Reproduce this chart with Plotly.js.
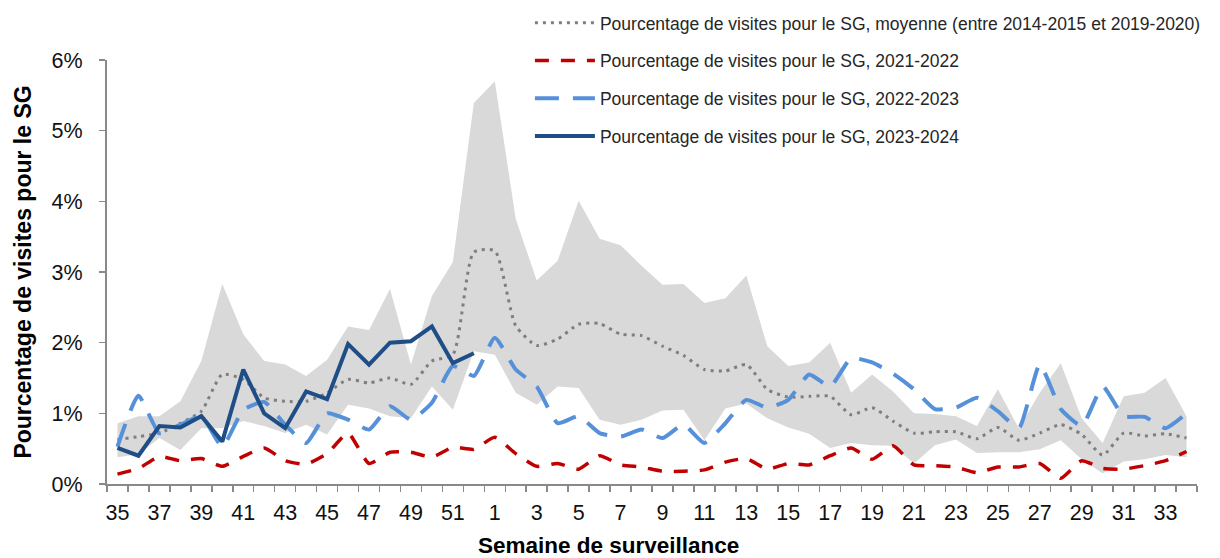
<!DOCTYPE html>
<html>
<head>
<meta charset="utf-8">
<script src="https://cdn.plot.ly/plotly-3.0.1.min.js"></script>
<style>
  html, body { margin: 0; padding: 0; background: #fff; }
  #chart { width: 1220px; height: 558px; }
</style>
</head>
<body>
<div id="chart"></div>
<script>
// surveillance weeks (35 -> 52, then 1 -> 34)
var weeks = [35,36,37,38,39,40,41,42,43,44,45,46,47,48,49,50,51,52,
  1,2,3,4,5,6,7,8,9,10,11,12,13,14,15,16,17,18,19,20,21,22,23,24,25,26,27,28,29,30,31,32,33,34];

// values in %
var meanPrev = [0.63,0.67,0.72,0.86,1.03,1.55,1.48,1.22,1.17,1.17,1.29,1.48,1.43,1.50,1.41,1.74,1.83,3.28,
  3.30,2.24,1.96,2.05,2.26,2.27,2.12,2.10,1.95,1.82,1.62,1.60,1.69,1.34,1.23,1.24,1.24,0.98,1.08,0.89,0.72,0.74,
  0.74,0.64,0.80,0.62,0.72,0.84,0.70,0.41,0.72,0.68,0.71,0.65];
var maxPrev = [0.86,0.96,0.96,1.17,1.74,2.83,2.12,1.74,1.69,1.53,1.76,2.23,2.18,2.76,1.69,2.66,3.14,5.39,
  5.70,3.75,2.88,3.16,4.01,3.47,3.38,3.09,2.82,2.83,2.56,2.63,2.95,1.95,1.67,1.72,2.00,1.29,1.55,1.31,1.00,0.99,
  0.96,0.82,1.34,0.79,1.29,1.71,0.93,0.58,1.24,1.29,1.50,0.96];
var minPrev = [0.38,0.42,0.65,0.48,0.79,0.79,0.89,0.82,0.72,0.84,0.70,1.12,1.07,0.96,0.93,1.38,1.05,1.88,
  1.83,1.29,1.12,1.38,1.36,0.91,0.84,0.91,1.04,1.05,0.62,1.07,1.14,0.93,0.80,0.71,0.51,0.58,0.55,0.54,0.29,0.55,
  0.63,0.44,0.45,0.45,0.49,0.62,0.35,0.15,0.32,0.35,0.41,0.38];
var s2021 = [0.14,0.22,0.39,0.33,0.36,0.25,0.39,0.51,0.33,0.28,0.43,0.72,0.29,0.45,0.45,0.38,0.52,0.49,
  0.66,0.43,0.25,0.29,0.21,0.40,0.27,0.24,0.18,0.18,0.20,0.31,0.36,0.21,0.29,0.27,0.40,0.51,0.35,0.54,0.27,0.26,
  0.24,0.16,0.24,0.24,0.29,0.08,0.33,0.22,0.21,0.26,0.33,0.46];
var s2022 = [0.53,1.25,0.72,0.84,0.96,0.53,1.05,1.16,0.84,0.58,1.00,0.91,0.77,1.10,0.91,1.15,1.67,1.53,
  2.07,1.62,1.38,0.86,0.96,0.72,0.67,0.77,0.65,0.84,0.58,0.86,1.19,1.08,1.19,1.55,1.38,1.78,1.72,1.56,1.34,1.06,
  1.08,1.22,1.03,0.79,1.69,1.06,0.82,1.38,0.96,0.95,0.79,1.00];
var s2023 = [0.51,0.40,0.82,0.80,0.96,0.60,1.62,1.00,0.79,1.31,1.20,1.98,1.69,2.00,2.02,2.23,1.71,1.85];

var names = [
  "Pourcentage de visites pour le SG, moyenne (entre 2014-2015 et 2019-2020)",
  "Pourcentage de visites pour le SG, 2021-2022",
  "Pourcentage de visites pour le SG, 2022-2023",
  "Pourcentage de visites pour le SG, 2023-2024"
];

var idx = weeks.map(function (w, i) { return i; });
var tickIdx = idx.filter(function (i) { return i % 2 === 0; });
var tickLabels = tickIdx.map(function (i) { return String(weeks[i]); });

var bandLow = {
  x: idx, y: minPrev, mode: "lines", type: "scatter",
  line: {width: 0}, showlegend: false, hoverinfo: "skip"
};
var bandHigh = {
  x: idx, y: maxPrev, mode: "lines", type: "scatter",
  fill: "tonexty", fillcolor: "#d9d9d9",
  line: {width: 0}, showlegend: false, hoverinfo: "skip"
};
var traceMean = {
  x: idx, y: meanPrev, mode: "lines", type: "scatter", name: names[0], legendgroup: "a",
  line: {color: "#7f7f7f", width: 3, dash: "3px,5px", shape: "spline", smoothing: 0.6}
};
var trace2021 = {
  x: idx, y: s2021, mode: "lines", type: "scatter", name: names[1], legendgroup: "b",
  line: {color: "#c00000", width: 3.5, dash: "14px,12px", shape: "spline", smoothing: 0.5}
};
var trace2022 = {
  x: idx, y: s2022, mode: "lines", type: "scatter", name: names[2], legendgroup: "c",
  line: {color: "#5590d9", width: 4, dash: "24px,14px", shape: "spline", smoothing: 0.5}
};
var trace2023 = {
  x: idx.slice(0, s2023.length), y: s2023, mode: "lines", type: "scatter", name: names[3], legendgroup: "d",
  line: {color: "#1f4e87", width: 4}
};

var data = [bandLow, bandHigh, traceMean, trace2021, trace2022, trace2023];

var axisFont = {family: "Liberation Sans, Arial, sans-serif", size: 21.5, color: "#111"};

var layout = {
  width: 1220, height: 558,
  margin: {l: 107, r: 23, t: 60, b: 74, autoexpand: false},
  paper_bgcolor: "#fff", plot_bgcolor: "#fff",
  font: {family: "Liberation Sans, Arial, sans-serif", color: "#000"},
  showlegend: true,
  legend: {
    x: 0.388, xanchor: "left", y: 1.13, yanchor: "top",
    bgcolor: "rgba(0,0,0,0)", font: {size: 17.5, color: "#262626"},
    tracegroupgap: 12, itemwidth: 60, traceorder: "grouped"
  },
  xaxis: {
    range: [-0.5, 51.5], tickmode: "array", tickvals: tickIdx, ticktext: tickLabels,
    showgrid: false, zeroline: false, showline: true, linecolor: "#898989", linewidth: 2,
    ticks: "", tickfont: axisFont, ticklabelstandoff: 8,
    minor: {tickmode: "linear", tick0: -0.5, dtick: 1, ticks: "outside", ticklen: 6, tickcolor: "#898989", tickwidth: 1.5, showgrid: false}
  },
  yaxis: {
    range: [0, 6], dtick: 1, ticksuffix: "%",
    showgrid: false, zeroline: false, showline: true, linecolor: "#898989", linewidth: 2,
    ticks: "outside", ticklen: 6, tickcolor: "#898989", tickwidth: 1.5,
    tickfont: axisFont, ticklabelstandoff: 12,
    title: {text: "<b>Pourcentage de visites pour le SG</b>", font: {size: 23, color: "#000"}, standoff: 14}
  },
  annotations: [{
    text: "<b>Semaine de surveillance</b>", xref: "paper", yref: "paper",
    x: 0.46, y: 0, xanchor: "center", yanchor: "top", yshift: -47,
    showarrow: false, font: {size: 22.5, color: "#000"}
  }]
};

Plotly.newPlot("chart", data, layout, {staticPlot: true});
</script>
</body>
</html>
